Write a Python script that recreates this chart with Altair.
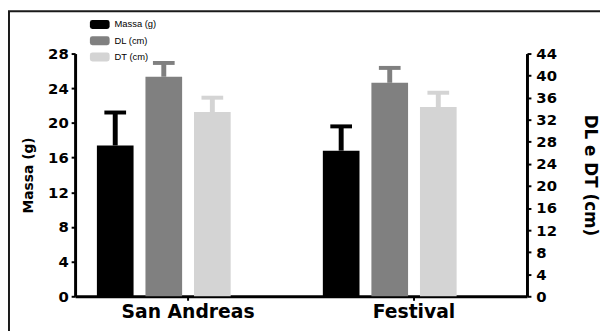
import altair as alt
import pandas as pd

groups = ["San Andreas", "Festival"]
series = ["Massa (g)", "DL (cm)", "DT (cm)"]
colors = ["#000000", "#808080", "#d4d4d4"]

massa_mean = [17.4, 16.8]
massa_sd = [3.8, 2.8]
dl_mean = [39.8, 38.7]
dl_sd = [2.5, 2.7]
dt_mean = [33.4, 34.3]
dt_sd = [2.6, 2.6]

left_ticks = list(range(0, 29, 4))
right_ticks = list(range(0, 45, 4))

rows = []
for name, means, sds in [(series[0], massa_mean, massa_sd),
                         (series[1], dl_mean, dl_sd),
                         (series[2], dt_mean, dt_sd)]:
    for g, m, s in zip(groups, means, sds):
        rows.append({"group": g, "series": name, "mean": m, "upper": m + s})
df = pd.DataFrame(rows)
df_massa = df[df.series == series[0]]
df_cm = df[df.series != series[0]]

FONT = "DejaVu Sans"

x_enc = alt.X("group:N", sort=groups,
              scale=alt.Scale(paddingInner=0, paddingOuter=0),
              axis=alt.Axis(title=None, labelAngle=0, labelFontSize=19,
                            labelPadding=3, tickSize=4))
xo_enc = alt.XOffset("series:N",
                     scale=alt.Scale(domain=series + ["_"], paddingInner=0.245,
                                     paddingOuter=0.449))

legend_path = ("M-1.5,-0.9 L1.5,-0.9 Q2,-0.9 2,-0.4 L2,0.4 Q2,0.9 1.5,0.9 "
               "L-1.5,0.9 Q-2,0.9 -2,0.4 L-2,-0.4 Q-2,-0.9 -1.5,-0.9 Z")
color_enc = alt.Color("series:N",
                      scale=alt.Scale(domain=series, range=colors),
                      legend=alt.Legend(title=None, orient="none", legendX=20,
                                        legendY=-34.5, symbolType=legend_path,
                                        symbolSize=100, labelOffset=10,
                                        rowPadding=6.5, padding=0,
                                        labelFont="Liberation Sans",
                                        labelFontSize=9.5, labelFontWeight="normal",
                                        labelColor="#000000",
                                        symbolOpacity=1,
                                        symbolStrokeWidth=0))


def panel(data, domain, ticks, title, orient, title_pad, title_size, label_pad):
    yscale = alt.Scale(domain=domain, nice=False, zero=True)
    yaxis = alt.Axis(title=title, orient=orient, values=ticks, grid=False,
                     labelFontSize=15, titleFontSize=title_size,
                     titlePadding=title_pad, tickSize=4, labelPadding=label_pad)
    bars = alt.Chart(data).mark_bar(opacity=1).encode(
        x=x_enc, xOffset=xo_enc, color=color_enc,
        y=alt.Y("mean:Q", scale=yscale, axis=yaxis))
    stems = alt.Chart(data).mark_rule(strokeWidth=5).encode(
        x=x_enc, xOffset=xo_enc, color=color_enc,
        y=alt.Y("mean:Q", scale=yscale, axis=yaxis), y2="upper:Q")
    caps = alt.Chart(data).mark_tick(size=22, thickness=4, opacity=1).encode(
        x=x_enc, xOffset=xo_enc, color=color_enc,
        y=alt.Y("upper:Q", scale=yscale, axis=yaxis))
    return alt.layer(bars, stems, caps)


left = panel(df_massa, [0, 28], left_ticks, "Massa (g)", "left", 12, 14, 3)
right = panel(df_cm, [0, 44], right_ticks, "DL e DT (cm)", "right", 24, 17, 5)

frame = alt.Chart(alt.Data(values=[{"f": 1}])).mark_rect(
    fill="transparent", stroke="#1a1a1a", strokeWidth=2).encode(
    x=alt.value(-67), x2=alt.value(545), y=alt.value(-43), y2=alt.value(300))

chart = alt.layer(left, right, frame).resolve_scale(y="independent").properties(
    width=458, height=246,
    autosize=alt.AutoSizeParams(type="none"),
    padding={"left": 68, "top": 44, "right": 74, "bottom": 33},
    background="white",
).configure_view(stroke=None).configure_axis(
    domainColor="#000000", domainWidth=3, tickColor="#000000", tickWidth=2,
    labelColor="#000000", labelFont=FONT, labelFontWeight="bold",
    titleColor="#000000", titleFont=FONT, titleFontWeight="bold",
)

chart.save("out.html", embed_options={"renderer": "svg", "actions": False})
